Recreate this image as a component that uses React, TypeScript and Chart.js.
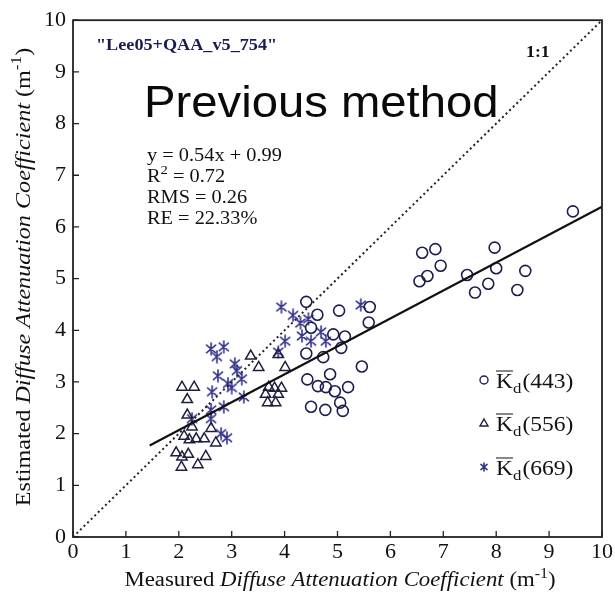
import React, { useEffect, useRef } from 'react';
import { Chart, registerables } from 'chart.js';
Chart.register(...registerables);

// Kd(443) circles [measured, estimated]
const kd443: [number, number][] = [
  [9.45, 6.3], [6.6, 5.5], [6.85, 5.57], [6.95, 5.25], [6.55, 4.95], [6.7, 5.05],
  [7.45, 5.07], [7.6, 4.73], [7.85, 4.9], [7.97, 5.6], [8.0, 5.2], [8.55, 5.15], [8.4, 4.78],
  [4.41, 4.55], [4.62, 4.3], [5.03, 4.38], [5.61, 4.45], [5.59, 4.15], [4.5, 4.05],
  [4.92, 3.92], [5.14, 3.88], [5.07, 3.66], [4.41, 3.55], [4.73, 3.48], [5.46, 3.3],
  [4.86, 3.15], [4.43, 3.05], [4.63, 2.92], [4.78, 2.9], [4.95, 2.82], [5.2, 2.9],
  [4.5, 2.52], [4.77, 2.46], [5.05, 2.6], [5.1, 2.44],
];
// Kd(556) triangles
const kd556: [number, number][] = [
  [3.36, 3.5], [3.51, 3.28], [4.01, 3.28], [3.88, 3.53], [2.06, 2.9], [2.29, 2.9],
  [2.16, 2.66], [3.7, 2.9], [3.81, 2.88], [3.94, 2.88], [3.64, 2.76], [3.68, 2.6],
  [3.83, 2.6], [3.88, 2.76], [2.16, 2.36], [2.25, 2.13], [2.61, 2.1], [2.1, 1.95],
  [2.2, 1.88], [2.33, 1.9], [2.48, 1.9], [2.7, 1.82], [1.95, 1.63], [2.06, 1.55],
  [2.18, 1.6], [2.51, 1.56], [2.36, 1.4], [2.05, 1.35],
];
// Kd(669) asterisks
const kd669: [number, number][] = [
  [3.94, 4.45], [4.16, 4.29], [4.3, 4.14], [4.45, 4.22], [4.33, 3.89], [4.5, 3.79],
  [4.69, 3.97], [4.78, 3.79], [4.01, 3.79], [3.88, 3.58], [5.44, 4.49], [2.61, 3.64],
  [2.85, 3.68], [2.72, 3.49], [3.06, 3.35], [3.1, 3.22], [3.19, 3.06], [2.74, 3.12],
  [2.93, 2.97], [3.0, 2.89], [2.63, 2.81], [3.23, 2.71], [2.85, 2.52], [2.61, 2.46],
  [2.61, 2.29], [2.25, 2.29], [2.91, 1.92], [2.8, 2.0],
];
// regression line y = 0.54x + 0.99 endpoints, and 1:1 line
const fitLine: [number, number][] = [[1.45, 1.77], [10, 6.39]];
const oneToOne: [number, number][] = [[0, 0], [10, 10]];
const xTickValues = [0, 1, 2, 3, 4, 5, 6, 7, 8, 9, 10];
const yTickValues = [0, 1, 2, 3, 4, 5, 6, 7, 8, 9, 10];
const legendLabels = ['443', '556', '669'];
const statLines = ['y = 0.54x + 0.99', 'R2 = 0.72', 'RMS = 0.26', 'RE = 22.33%'];

const SERIF = '"Liberation Serif", "Times New Roman", serif';
const SANS = '"Liberation Sans", Arial, sans-serif';
const C_CIRCLE = '#1d1d4e';
const C_TRI = '#1f1f3f';
const C_STAR = '#34348c';

function makeAsterisk(size: number, color: string) {
  const c = document.createElement('canvas');
  c.width = size; c.height = size;
  const g = c.getContext('2d')!;
  const m = size / 2; const r = size / 2 - 1;
  g.strokeStyle = color; g.lineWidth = 1.6; g.lineCap = 'round';
  g.beginPath();
  g.moveTo(m, m - r); g.lineTo(m, m + r);
  const a = (40 * Math.PI) / 180;
  g.moveTo(m - r * Math.cos(a), m - r * Math.sin(a)); g.lineTo(m + r * Math.cos(a), m + r * Math.sin(a));
  g.moveTo(m - r * Math.cos(a), m + r * Math.sin(a)); g.lineTo(m + r * Math.cos(a), m - r * Math.sin(a));
  g.stroke();
  return c;
}

type Seg = { t: string; it?: boolean; sup?: boolean; sub?: boolean; bold?: boolean };
function segFont(s: Seg, size: number, family: string) {
  const sz = s.sup || s.sub ? Math.round(size * 0.7) : size;
  return `${s.it ? 'italic ' : ''}${s.bold ? 'bold ' : ''}${sz}px ${family}`;
}
function richWidth(ctx: CanvasRenderingContext2D, segs: Seg[], size: number, family: string) {
  let w = 0;
  for (const s of segs) { ctx.font = segFont(s, size, family); w += ctx.measureText(s.t).width; }
  return w;
}
function drawRich(ctx: CanvasRenderingContext2D, segs: Seg[], x: number, y: number, size: number, family: string, color: string, sx = 1) {
  ctx.save();
  ctx.translate(x, y);
  ctx.scale(sx, 1);
  ctx.fillStyle = color;
  ctx.textBaseline = 'alphabetic';
  ctx.textAlign = 'left';
  let cx = 0;
  for (const s of segs) {
    ctx.font = segFont(s, size, family);
    const dy = s.sup ? -size * 0.42 : s.sub ? size * 0.25 : 0;
    ctx.fillText(s.t, cx, dy);
    cx += ctx.measureText(s.t).width;
  }
  ctx.restore();
}

const decorPlugin = {
  id: 'decor',
  afterDraw(chart: any) {
    const ctx: CanvasRenderingContext2D = chart.ctx;
    const { left, right, top, bottom } = chart.chartArea;
    const xs = chart.scales.x; const ys = chart.scales.y;
    ctx.save();
    // frame
    ctx.strokeStyle = '#222'; ctx.lineWidth = 1.8;
    ctx.strokeRect(left, top, right - left, bottom - top);
    // inward ticks
    ctx.lineWidth = 1.3;
    ctx.beginPath();
    for (const v of xTickValues) {
      const px = xs.getPixelForValue(v);
      ctx.moveTo(px, bottom); ctx.lineTo(px, bottom - 6);
    }
    for (const v of yTickValues) {
      const py = ys.getPixelForValue(v);
      ctx.moveTo(left, py); ctx.lineTo(left + 6, py);
    }
    ctx.stroke();

    // annotations
    drawRich(ctx, [{ t: '"Lee05+QAA_v5_754"', bold: true }], 96, 50, 17, SERIF, '#1a1a52', 1.07);
    drawRich(ctx, [{ t: '1:1', bold: true }], 526, 57, 17, SERIF, '#111', 1.05);
    drawRich(ctx, [{ t: 'Previous method' }], 144, 117, 45, SANS, '#0a0a0a', 1.05);

    const statY = [161, 182, 203, 224];
    statLines.forEach((line, i) => {
      let segs: Seg[];
      if (line.startsWith('R2')) segs = [{ t: 'R' }, { t: '2', sup: true }, { t: line.slice(2) }];
      else segs = [{ t: line }];
      drawRich(ctx, segs, 147, statY[i], 18, SERIF, '#111', 1.13);
    });

    // legend
    const legY = [380, 423, 467];
    legendLabels.forEach((lab, i) => {
      const y = legY[i];
      const mx = 484;
      ctx.lineWidth = 1.4;
      if (i === 0) {
        ctx.strokeStyle = C_CIRCLE;
        ctx.beginPath(); ctx.arc(mx, y, 4, 0, Math.PI * 2); ctx.stroke();
      } else if (i === 1) {
        ctx.strokeStyle = C_TRI;
        ctx.beginPath(); ctx.moveTo(mx, y - 4); ctx.lineTo(mx + 4, y + 3); ctx.lineTo(mx - 4, y + 3); ctx.closePath(); ctx.stroke();
      } else {
        ctx.drawImage(makeAsterisk(10, C_STAR), mx - 5, y - 5);
      }
      const bx = 496; const by = y + 8;
      const sx = 1.12;
      ctx.save();
      ctx.translate(bx, by);
      ctx.scale(sx, 1);
      ctx.fillStyle = '#111';
      ctx.font = `21px ${SERIF}`;
      ctx.fillText('K', 0, 0);
      const kw = ctx.measureText('K').width;
      ctx.strokeStyle = '#111'; ctx.lineWidth = 1;
      ctx.beginPath(); ctx.moveTo(0, -17); ctx.lineTo(kw, -17); ctx.stroke();
      ctx.font = `15px ${SERIF}`;
      ctx.fillText('d', kw, 5);
      const dw = ctx.measureText('d').width;
      ctx.font = `21px ${SERIF}`;
      ctx.fillText(`(${lab})`, kw + dw + 1, 0);
      ctx.restore();
    });

    // x axis title
    const xSegs: Seg[] = [{ t: 'Measured ' }, { t: 'Diffuse Attenuation Coefficient', it: true }, { t: ' (m' }, { t: '-1', sup: true }, { t: ')' }];
    const xsx = 1.14;
    const xw = richWidth(ctx, xSegs, 20, SERIF) * xsx;
    drawRich(ctx, xSegs, 340 - xw / 2, 586, 20, SERIF, '#111', xsx);
    // y axis title
    const ySegs: Seg[] = [{ t: 'Estimated ' }, { t: 'Diffuse Attenuation Coefficient', it: true }, { t: ' (m' }, { t: '-1', sup: true }, { t: ')' }];
    const ysx = 1.15;
    const yw = richWidth(ctx, ySegs, 21, SERIF) * ysx;
    ctx.save();
    ctx.translate(30, 277);
    ctx.rotate(-Math.PI / 2);
    drawRich(ctx, ySegs, -yw / 2, 0, 21, SERIF, '#111', ysx);
    ctx.restore();
    ctx.restore();
  },
};

export default function App() {
  const ref = useRef<HTMLCanvasElement>(null);
  useEffect(() => {
    const toPts = (a: [number, number][]) => a.map(([x, y]) => ({ x, y }));
    const chart = new Chart(ref.current!, {
      type: 'scatter',
      data: {
        datasets: [
          { type: 'line', data: toPts(oneToOne), borderColor: '#222', borderWidth: 2, borderDash: [2, 3], pointRadius: 0, fill: false } as any,
          { type: 'line', data: toPts(fitLine), borderColor: '#111', borderWidth: 2.2, pointRadius: 0, fill: false } as any,
          { data: toPts(kd443), pointStyle: 'circle', pointRadius: 5.5, borderColor: C_CIRCLE, backgroundColor: 'rgba(0,0,0,0)', pointBorderWidth: 1.6 },
          { data: toPts(kd556), pointStyle: 'triangle', pointRadius: 6, borderColor: C_TRI, backgroundColor: 'rgba(0,0,0,0)', pointBorderWidth: 1.5 },
          { data: toPts(kd669), pointStyle: makeAsterisk(14, C_STAR) as any, pointRadius: 7, borderColor: C_STAR, backgroundColor: C_STAR },
        ],
      },
      options: {
        responsive: false,
        animation: false,
        layout: { padding: { top: 17, right: 9, left: 0, bottom: 0 } },
        plugins: { legend: { display: false }, tooltip: { enabled: false } },
        scales: {
          x: {
            type: 'linear', min: 0, max: 10,
            afterBuildTicks: (s: any) => { s.ticks = xTickValues.map((v) => ({ value: v })); },
            afterFit: (s: any) => { s.height = 58; },
            grid: { display: false, drawTicks: false },
            border: { display: false },
            ticks: { padding: 2, color: '#111', font: { family: SERIF, size: 22 } },
          },
          y: {
            type: 'linear', min: 0, max: 10,
            afterBuildTicks: (s: any) => { s.ticks = yTickValues.map((v) => ({ value: v })); },
            afterFit: (s: any) => { s.width = 73; },
            grid: { display: false, drawTicks: false },
            border: { display: false },
            ticks: { padding: 7, color: '#111', font: { family: SERIF, size: 22 } },
          },
        },
      },
      plugins: [decorPlugin],
    });
    return () => chart.destroy();
  }, []);
  return (
    <div style={{ position: 'absolute', left: 0, top: 0, width: 615, height: 595, background: '#fff' }}>
      <canvas ref={ref} width={615} height={595} />
    </div>
  );
}
